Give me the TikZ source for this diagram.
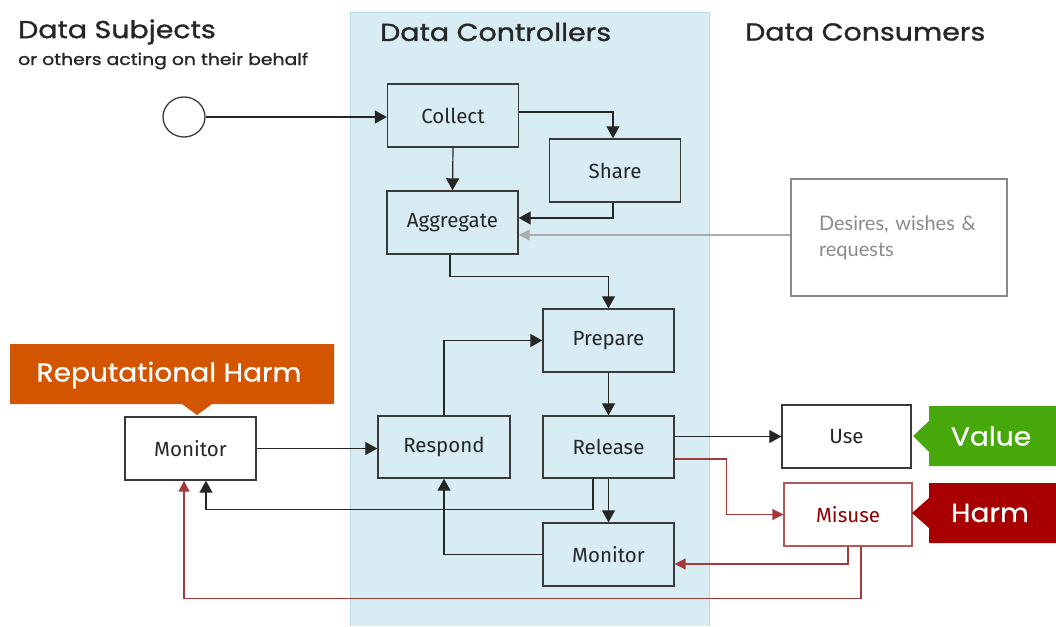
\documentclass[tikz,border=0pt]{standalone}
\usepackage{fontspec}
\setmainfont{Fira Sans}
\newfontfamily\notefont{Lato}
\newfontfamily\hdr[FakeStretch=1.16,FakeBold=1.2]{Poppins}
\newfontfamily\tagfont[FakeStretch=1.08,FakeBold=0.8]{Poppins}
\usetikzlibrary{arrows.meta,calc,shapes.geometric}
\definecolor{panelfill}{HTML}{D7ECF3}
\definecolor{panelline}{HTML}{B9D7E2}
\definecolor{boxline}{HTML}{3A3A3A}
\definecolor{harmred}{HTML}{A80000}
\definecolor{flowred}{HTML}{A33A3A}
\definecolor{valuegreen}{HTML}{46A80A}
\definecolor{repcolor}{HTML}{D45500}
\definecolor{softgray}{HTML}{8A8A8A}
\tikzset{
  stepbox/.style={draw=boxline, line width=1.4pt, fill=panelfill, inner sep=0pt,
    minimum width=131pt, minimum height=63pt, font=\fontsize{20.5}{22}\selectfont, text=black!85},
  plainbox/.style={stepbox, fill=white},
  flow/.style={line width=1.2pt, draw=black!85, -{Triangle[length=12pt,width=13pt]}},
  redflow/.style={line width=1.2pt, draw=flowred, -{Triangle[length=11pt,width=11pt]}},
  grayflow/.style={line width=1.2pt, draw=softgray!70, -{Triangle[length=11pt,width=11pt]}},
  head/.style={font=\hdr\fontsize{24.5}{26}\selectfont, text=black!85, anchor=west, inner sep=0pt},
  tag/.style={font=\tagfont\fontsize{26}{28}\selectfont, text=white, inner sep=0pt},
}
\begin{document}
\begin{tikzpicture}[x=1pt,y=-1pt]
\useasboundingbox (0,0) rectangle (1056,626);

% middle column
\fill[panelfill] (350,13) rectangle (709,626);
\draw[panelline, line width=1pt] (350,626) -- (350,13) -- (709,13) -- (709,626);

% column headings
\node[head] (hsub) at (18,32) {Data Subjects};
\node[head, font=\hdr\fontsize{16.2}{18}\selectfont] (hsub2) at (18,61) {or others acting on their behalf};
\node[head] (hctl) at (380,32) {Data Controllers};
\node[head] (hcon) at (745,32) {Data Consumers};

% source
\node[draw=boxline, line width=1.3pt, fill=white, ellipse, minimum width=42pt, minimum height=40pt, inner sep=0pt] (src) at (184,117) {};

% process steps
\node[stepbox] (collect) at (453,115.5) {Collect};
\node[stepbox] (share) at (615,170.5) {Share};
\node[stepbox] (aggregate) at (452.5,222.5) {Aggregate};
\node[stepbox] (prepare) at (608.5,340.5) {Prepare};
\node[stepbox, minimum height=62pt] (release) at (608.5,447) {Release};
\node[stepbox] (monc) at (608.5,554.5) {Monitor};
\node[stepbox, minimum width=132pt, minimum height=62pt] (respond) at (444,447) {Respond};

% outside boxes
\node[plainbox] (monl) at (190.5,448.5) {Monitor};
\node[plainbox, minimum width=129pt] (use) at (846.5,436.5) {Use};
\node[plainbox, draw=flowred!85, line width=1.1pt, minimum width=128pt, text=harmred!85!black] (misuse) at (848,514.5) {Misuse};
\node[draw=softgray, line width=1.3pt, fill=white, minimum width=216pt, minimum height=117pt,
  inner sep=0pt, align=left, text width=160pt, text=softgray, font=\notefont\fontsize{20}{26}\selectfont] (desires) at (899,237.5)
  {Desires, wishes \&\\requests};

% callouts
\fill[valuegreen] (929,406) -- (1056,406) -- (1056,466) -- (929,466) -- (929,452) -- (913,436) -- (929,421) -- cycle;
\node[tag] (value) at (991,436) {Value};
\fill[harmred] (929,483) -- (1056,483) -- (1056,543) -- (929,543) -- (929,528) -- (912,513) -- (929,498) -- cycle;
\node[tag] (harm) at (990,513) {Harm};
\fill[repcolor] (10,344) -- (334,344) -- (334,404) -- (212,404) -- (197,415) -- (182,404) -- (10,404) -- cycle;
\node[tag] (rep) at (169,375) {Reputational Harm};

% connectors
\draw[flow] (src.east) -- (collect.west |- src.east);
\draw[flow] ([yshift=3.5pt]collect.east) -| ([xshift=-2pt]share.north);
\draw[flow] (collect.south) -- (aggregate.north);
\draw[flow] ([xshift=-2pt]share.south) |- ([yshift=4.5pt]aggregate.east);
\draw[grayflow] ([yshift=2.5pt]desires.west) -- ([yshift=-12.5pt]aggregate.east);
\draw[flow] ([xshift=-2.5pt]aggregate.south) -- ($(aggregate.south)+(-2.5,22)$) -| (prepare.north);
\draw[flow] (respond.north) |- (prepare.west);
\draw[flow] (prepare.south) -- (release.north);
\draw[flow] (release.south) -- (monc.north);
\draw[flow] (monc.west) -| (respond.south);
\draw[flow] ([xshift=-15.5pt]release.south) -- ($(release.south)+(-15.5,31)$) -| ([xshift=15.5pt]monl.south);
\draw[flow] (monl.east) -- (respond.west |- monl.east);
\draw[flow] (use.west -| release.east) -- (use.west);
\draw[redflow] ([yshift=-12pt]release.east) -| ($(misuse.west)+(-57,0)$) -- (misuse.west);
\draw[redflow] (misuse.south) |- ([yshift=-9.5pt]monc.east);
\draw[redflow] ([xshift=13pt]misuse.south) -- ($(misuse.south)+(13,52)$) -| ([xshift=-6.5pt]monl.south);
\end{tikzpicture}
\end{document}
